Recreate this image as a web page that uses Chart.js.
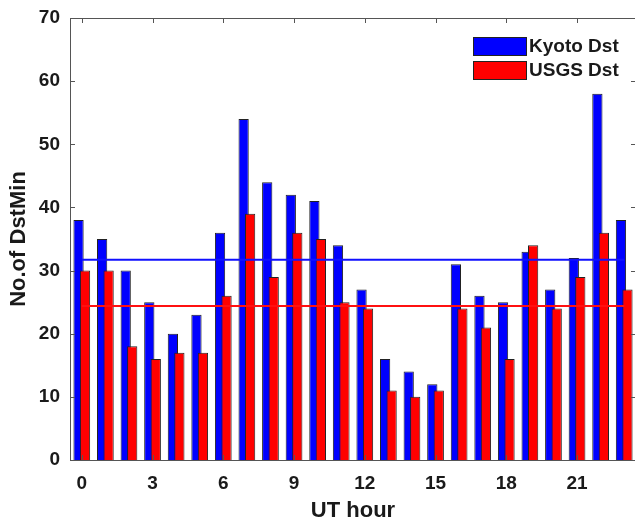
<!DOCTYPE html>
<html>
<head>
<meta charset="utf-8">
<script src="https://cdn.jsdelivr.net/npm/chart.js@4.4.1/dist/chart.umd.min.js"></script>
<style>
  html, body { margin: 0; padding: 0; background: #fff; overflow: hidden; }
  canvas { display: block; }
</style>
</head>
<body>
<canvas id="dstChart" width="640" height="522"></canvas>
<script>
var hours = [0, 1, 2, 3, 4, 5, 6, 7, 8, 9, 10, 11, 12, 13, 14, 15, 16, 17, 18, 19, 20, 21, 22, 23];
var kyoto_counts = [38, 35, 30, 25, 20, 23, 36, 54, 44, 42, 41, 34, 27, 16, 14, 12, 31, 26, 25, 33, 27, 32, 58, 38];
var usgs_counts = [30, 30, 18, 16, 17, 17, 26, 39, 29, 36, 35, 25, 24, 11, 10, 11, 24, 21, 16, 34, 24, 29, 36, 27];
var hour_ticks = [0, 3, 6, 9, 12, 15, 18, 21];
var count_ticks = [0, 10, 20, 30, 40, 50, 60, 70];

var font_family = "'Liberation Sans', Arial, Helvetica, sans-serif";
var text_color = '#1a1a1a';
var frame_color = '#555555';

function mean(arr)
{
    var s = 0;
    for (var i = 0; i < arr.length; i++) s += arr[i];
    return s / arr.length;
}

var kyoto_mean = mean(kyoto_counts);
var usgs_mean = mean(usgs_counts);

// red bars overlap the blue ones, so draw them right after the blue set
var red_on_top = {
    id: 'redOnTop',
    beforeDatasetDraw: function(chart, args) {
        if (args.index === 1) return false;
    },
    afterDatasetDraw: function(chart, args) {
        if (args.index === 0) {
            var meta = chart.getDatasetMeta(1);
            if (meta.visible) meta.controller.draw();
        }
    }
};

// box around the plot with short ticks pointing inwards on all four sides
var frame = {
    id: 'frame',
    afterDraw: function(chart) {
        var ctx = chart.ctx;
        var a = chart.chartArea;
        var xs = chart.scales.x, ys = chart.scales.y;
        var len = 5;
        ctx.save();
        ctx.strokeStyle = frame_color;
        ctx.lineWidth = 1;
        ctx.strokeRect(Math.round(a.left) + 0.5, Math.round(a.top) + 0.5,
                       Math.round(a.right - a.left), Math.round(a.bottom - a.top));
        ctx.beginPath();
        hour_ticks.forEach(function(h) {
            var px = Math.round(xs.getPixelForValue(h)) + 0.5;
            ctx.moveTo(px, a.bottom); ctx.lineTo(px, a.bottom - len);
            ctx.moveTo(px, a.top); ctx.lineTo(px, a.top + len);
        });
        count_ticks.forEach(function(v) {
            var py = Math.round(ys.getPixelForValue(v)) + 0.5;
            ctx.moveTo(a.left, py); ctx.lineTo(a.left + len, py);
            ctx.moveTo(a.right, py); ctx.lineTo(a.right - len, py);
        });
        ctx.stroke();
        ctx.restore();
    }
};

// legend box in the upper right corner of the plot
var corner_legend = {
    id: 'cornerLegend',
    afterDraw: function(chart) {
        var ctx = chart.ctx;
        var a = chart.chartArea;
        var x0 = a.right - 163, y0 = a.top + 19;
        var bw = 53, bh = 18, step = 24;
        ctx.save();
        ctx.font = 'bold 19px ' + font_family;
        ctx.textBaseline = 'middle';
        [0, 1].forEach(function(i) {
            var ds = chart.data.datasets[i];
            var y = y0 + i * step;
            ctx.fillStyle = ds.backgroundColor;
            ctx.fillRect(x0, y, bw, bh);
            ctx.strokeStyle = '#222';
            ctx.lineWidth = 1;
            ctx.strokeRect(x0 + 0.5, y + 0.5, bw, bh);
            ctx.fillStyle = text_color;
            ctx.fillText(ds.label, x0 + bw + 3, y + bh / 2 + 1);
        });
        ctx.restore();
    }
};

new Chart(document.getElementById('dstChart'), {
    type: 'bar',
    data: {
        labels: hours,
        datasets: [{
            label: 'Kyoto Dst',
            data: kyoto_counts,
            backgroundColor: '#0000ff',
            borderColor: '#222222',
            borderWidth: 1,
            categoryPercentage: 0.55,
            barPercentage: 1.58
        }, {
            label: 'USGS Dst',
            data: usgs_counts,
            backgroundColor: '#ff0000',
            borderColor: '#222222',
            borderWidth: 1,
            categoryPercentage: 0.55,
            barPercentage: 1.58
        }, {
            type: 'line',
            label: 'Kyoto mean',
            data: hours.map(function() { return kyoto_mean; }),
            borderColor: '#1010ff',
            borderWidth: 2,
            pointRadius: 0,
            order: -1
        }, {
            type: 'line',
            label: 'USGS mean',
            data: hours.map(function() { return usgs_mean; }),
            borderColor: '#ff1010',
            borderWidth: 2,
            pointRadius: 0,
            order: -1
        }]
    },
    options: {
        responsive: false,
        animation: false,
        layout: { padding: { left: 0, top: 18, right: 4, bottom: 0 } },
        plugins: {
            legend: { display: false },
            tooltip: { enabled: false }
        },
        scales: {
            x: {
                type: 'linear',
                min: -0.5,
                max: 23.5,
                offset: false,
                grid: { display: false, drawTicks: false, offset: false },
                border: { display: false },
                afterBuildTicks: function(scale) {
                    scale.ticks = hour_ticks.map(function(v) { return { value: v }; });
                },
                afterFit: function(scale) {
                    scale.height = 62;
                    scale.paddingLeft = 0;
                    scale.paddingRight = 0;
                },
                ticks: {
                    padding: 12,
                    color: text_color,
                    font: { family: font_family, size: 19, weight: 'bold' }
                },
                title: {
                    display: true,
                    text: 'UT hour',
                    color: text_color,
                    padding: { top: 0, bottom: 0 },
                    font: { family: font_family, size: 22, weight: 'bold', lineHeight: 1 }
                }
            },
            y: {
                min: 0,
                max: 70,
                grid: { display: false, drawTicks: false },
                border: { display: false },
                afterBuildTicks: function(scale) {
                    scale.ticks = count_ticks.map(function(v) { return { value: v }; });
                },
                afterFit: function(scale) {
                    scale.width = 70;
                    scale.paddingTop = 0;
                    scale.paddingBottom = 0;
                },
                ticks: {
                    padding: 10,
                    color: text_color,
                    font: { family: font_family, size: 19, weight: 'bold' }
                },
                title: {
                    display: true,
                    text: 'No.of DstMin',
                    color: text_color,
                    padding: { top: 8, bottom: 0 },
                    font: { family: font_family, size: 22, weight: 'bold', lineHeight: 1 }
                }
            }
        }
    },
    plugins: [red_on_top, frame, corner_legend]
});
</script>
</body>
</html>
